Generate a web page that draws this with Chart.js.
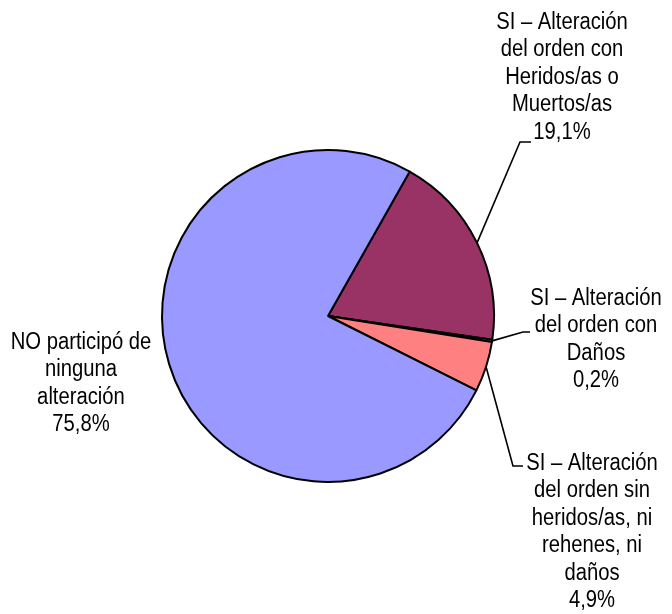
<!DOCTYPE html>
<html>
<head>
<meta charset="utf-8">
<script src="https://cdn.jsdelivr.net/npm/chart.js@4/dist/chart.umd.min.js"></script>
<style>
  html, body { margin: 0; padding: 0; background: #ffffff; }
  canvas { display: block; }
</style>
</head>
<body>
<canvas id="pieChart" width="672" height="614"></canvas>
<script>
// datos del gráfico (en orden horario, empezando por la porción morada)
const categories = [
  ["SI – Alteración", "del orden con", "Heridos/as o", "Muertos/as"],
  ["SI – Alteración", "del orden con", "Daños"],
  ["SI – Alteración", "del orden sin", "heridos/as, ni", "rehenes, ni", "daños"],
  ["NO participó de", "ninguna", "alteración"]
];
const values = [19.1, 0.2, 4.9, 75.8];
const valueLabels = ["19,1%", "0,2%", "4,9%", "75,8%"];
const sliceColors = ["#993366", "#FFFFCC", "#FF8080", "#9999FF"];

// posición de cada etiqueta: centro del texto, primera línea base y codo de la línea guía
const labelSpots = [
  { cx: 562, top: 29, elbow: [520, 142], tail: [531, 142] },
  { cx: 596, top: 305, elbow: [523, 332], tail: [530, 332] },
  { cx: 592, top: 470, elbow: [513, 466], tail: [523, 466] },
  { cx: 81, top: 349, elbow: null, tail: null }
];

// Arial Narrow no está instalada: se imita con Liberation Sans comprimida en horizontal
const FONT = '23px "Liberation Sans", Arial, sans-serif';
const NARROW = 0.88;
const LINE_H = 27.4;

const outsideLabels = {
  id: "outsideLabels",
  afterDatasetsDraw(chart) {
    const ctx = chart.ctx;
    const arcs = chart.getDatasetMeta(0).data;
    ctx.save();
    // líneas guía
    ctx.strokeStyle = "#000000";
    ctx.lineWidth = 1.6;
    arcs.forEach((arc, i) => {
      const spot = labelSpots[i];
      if (!spot.elbow) return;
      const mid = (arc.startAngle + arc.endAngle) / 2;
      const sx = arc.x + Math.cos(mid) * arc.outerRadius;
      const sy = arc.y + Math.sin(mid) * arc.outerRadius;
      ctx.beginPath();
      ctx.moveTo(sx, sy);
      ctx.lineTo(spot.elbow[0], spot.elbow[1]);
      ctx.lineTo(spot.tail[0], spot.tail[1]);
      ctx.stroke();
    });
    // textos
    ctx.fillStyle = "#000000";
    ctx.font = FONT;
    ctx.textAlign = "center";
    ctx.textBaseline = "alphabetic";
    categories.forEach((lines, i) => {
      const spot = labelSpots[i];
      const all = lines.concat([valueLabels[i]]);
      all.forEach((txt, j) => {
        ctx.save();
        ctx.translate(spot.cx, spot.top + j * LINE_H);
        ctx.scale(NARROW, 1);
        ctx.fillText(txt, 0, 0);
        ctx.restore();
      });
    });
    ctx.restore();
  }
};

new Chart(document.getElementById("pieChart"), {
  type: "pie",
  data: {
    labels: categories.map((c) => c.join(" ")),
    datasets: [
      {
        data: values,
        backgroundColor: sliceColors,
        borderColor: "#000000",
        borderWidth: 2
      }
    ]
  },
  options: {
    responsive: false,
    animation: false,
    devicePixelRatio: 1,
    rotation: 29.5,
    layout: { padding: { left: 161, top: 149, right: 177, bottom: 131 } },
    plugins: {
      legend: { display: false },
      tooltip: { enabled: false }
    }
  },
  plugins: [outsideLabels]
});
</script>
</body>
</html>
